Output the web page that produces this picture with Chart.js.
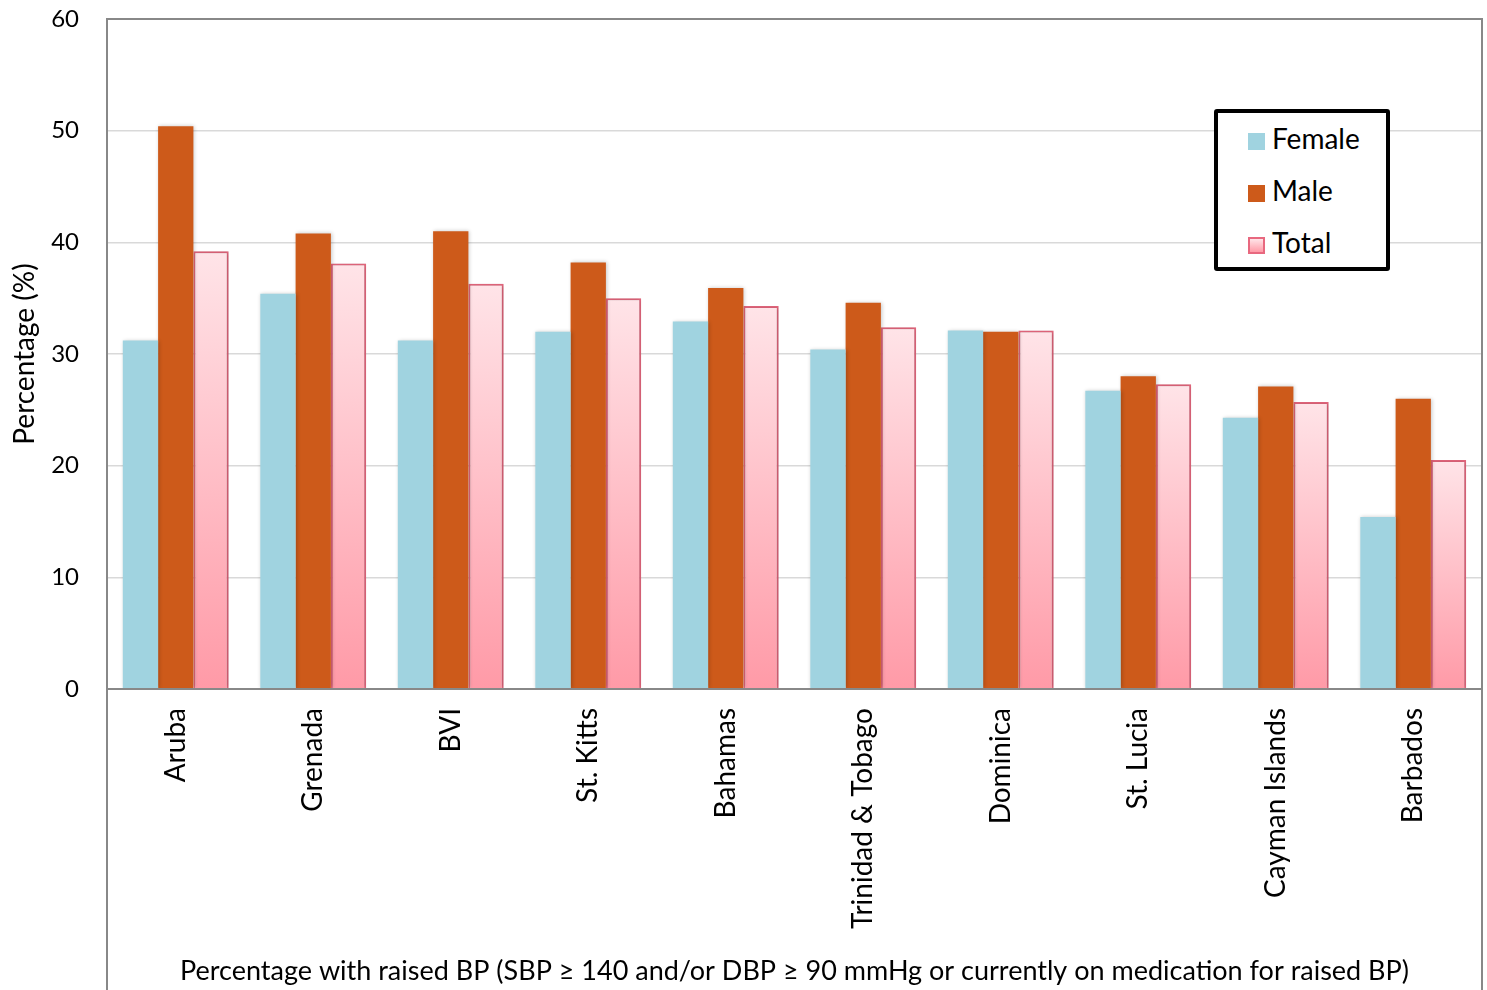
<!DOCTYPE html>
<html>
<head>
<meta charset="utf-8">
<script src="https://cdn.jsdelivr.net/npm/chart.js@4/dist/chart.umd.min.js"></script>
<style>
  html, body { margin: 0; padding: 0; background: #fff; }
  #wrap { position: relative; width: 1487px; height: 990px; overflow: hidden; }
  #legend {
    position: absolute; left: 1214px; top: 109px; width: 168px; height: 154px;
    border: 4px solid #000; border-radius: 3px; background: #fff;
    font-family: Lato, "Open Sans", sans-serif; font-size: 28px; color: #000;
  }
  #legend .item { position: absolute; left: 30px; height: 30px; line-height: 30px; }
  #legend .sw { display: inline-block; width: 17px; height: 17px; vertical-align: -1px; margin-right: 7px; box-sizing: border-box; }
</style>
</head>
<body>
<div id="wrap">
  <canvas id="bpChart" width="1487" height="990"></canvas>
  <div id="legend"></div>
</div>
<script>
(function () {
    "use strict";

    // data
    const countries = ["Aruba", "Grenada", "BVI", "St. Kitts", "Bahamas",
        "Trinidad & Tobago", "Dominica", "St. Lucia", "Cayman Islands", "Barbados"];
    const female = [31.2, 35.4, 31.2, 32.0, 32.9, 30.4, 32.1, 26.7, 24.3, 15.4];
    const male   = [50.4, 40.8, 41.0, 38.2, 35.9, 34.6, 32.0, 28.0, 27.1, 26.0];
    const total  = [39.2, 38.1, 36.3, 35.0, 34.3, 32.4, 32.1, 27.3, 25.7, 20.5];
    const yTicks = [0, 10, 20, 30, 40, 50, 60];

    const FONT = "Lato, 'Open Sans', sans-serif";
    Chart.defaults.font.family = FONT;
    Chart.defaults.color = "#000";

    // per-bar vertical gradient for the Total series
    function totalFill(context) {
        const chart = context.chart;
        const y = chart.scales && chart.scales.y;
        if (!chart.chartArea || !y || context.raw === undefined) return "#FFC0C8";
        const top = y.getPixelForValue(context.raw);
        const base = y.getPixelForValue(0);
        const g = chart.ctx.createLinearGradient(0, top, 0, base);
        g.addColorStop(0, "#FFE4E8");
        g.addColorStop(1, "#FF9AA7");
        return g;
    }

    const framePlugin = {
        id: "frame",
        beforeDatasetsDraw(chart) {
            const ctx = chart.ctx;
            ctx.save();
            ctx.shadowColor = "rgba(0,0,0,0.22)";
            ctx.shadowBlur = 4;
            ctx.shadowOffsetX = 1;
            ctx.shadowOffsetY = 0;
        },
        afterDatasetsDraw(chart) {
            chart.ctx.restore();
        },
        afterDraw(chart) {
            const ctx = chart.ctx;
            const a = chart.chartArea;
            ctx.save();
            ctx.strokeStyle = "#888";
            ctx.lineWidth = 2;
            ctx.beginPath();
            ctx.moveTo(a.left, chart.height);
            ctx.lineTo(a.left, a.top);
            ctx.lineTo(a.right, a.top);
            ctx.lineTo(a.right, chart.height);
            ctx.moveTo(a.left, a.bottom);
            ctx.lineTo(a.right, a.bottom);
            ctx.stroke();
            ctx.restore();
        }
    };

    const ctx = document.getElementById("bpChart").getContext("2d");
    const myChart = new Chart(ctx, {
        type: "bar",
        data: {
            labels: countries,
            datasets: [
                { label: "Female", data: female, backgroundColor: "#A0D3E0", borderWidth: 0 },
                { label: "Male", data: male, backgroundColor: "#CD5A1A", borderWidth: 0 },
                { label: "Total", data: total, backgroundColor: totalFill,
                  borderColor: "#E8687F", borderWidth: 2 }
            ]
        },
        options: {
            responsive: false,
            animation: false,
            layout: { padding: { top: 19, right: 5, left: 0, bottom: 0 } },
            datasets: { bar: { categoryPercentage: 0.77, barPercentage: 1 } },
            plugins: { legend: { display: false }, tooltip: { enabled: false } },
            scales: {
                x: {
                    grid: { display: false, drawTicks: false },
                    border: { display: false },
                    ticks: {
                        minRotation: 90, maxRotation: 90, padding: 19,
                        font: { size: 28 }, color: "#000"
                    },
                    title: {
                        display: true,
                        text: "Percentage with raised BP (SBP \u2265 140 and/or DBP \u2265 90 mmHg or currently on medication for raised BP)",
                        font: { size: 27 }, color: "#000",
                        padding: { top: 0, bottom: 3 }
                    },
                    afterFit(scale) { scale.height = 990 - 19 - 670; }
                },
                y: {
                    min: 0, max: 60,
                    afterBuildTicks(scale) { scale.ticks = yTicks.map(v => ({ value: v })); },
                    grid: { color: "#D9D9D9", lineWidth: 1.5, drawTicks: false },
                    border: { display: false },
                    ticks: { padding: 28, font: { size: 24 }, color: "#000" },
                    title: {
                        display: true, text: "Percentage (%)",
                        font: { size: 28 }, color: "#000",
                        padding: { top: 8, bottom: 0 }
                    },
                    afterFit(scale) {
                        scale.width = 107;
                        scale.paddingTop = 0;
                        scale.paddingBottom = 0;
                    }
                }
            }
        },
        plugins: [framePlugin]
    });

    // legend box built from the datasets
    const legend = document.getElementById("legend");
    const swatches = [
        { bg: "#A0D3E0", border: "none" },
        { bg: "#CD5A1A", border: "none" },
        { bg: "linear-gradient(#FFE4E8, #FF9AA7)", border: "2px solid #E8687F" }
    ];
    myChart.data.datasets.forEach(function (ds, i) {
        const item = document.createElement("div");
        item.className = "item";
        item.style.top = (10 + i * 52) + "px";
        const sw = document.createElement("span");
        sw.className = "sw";
        sw.style.background = swatches[i].bg;
        sw.style.border = swatches[i].border;
        item.appendChild(sw);
        item.appendChild(document.createTextNode(ds.label));
        legend.appendChild(item);
    });
})();
</script>
</body>
</html>
